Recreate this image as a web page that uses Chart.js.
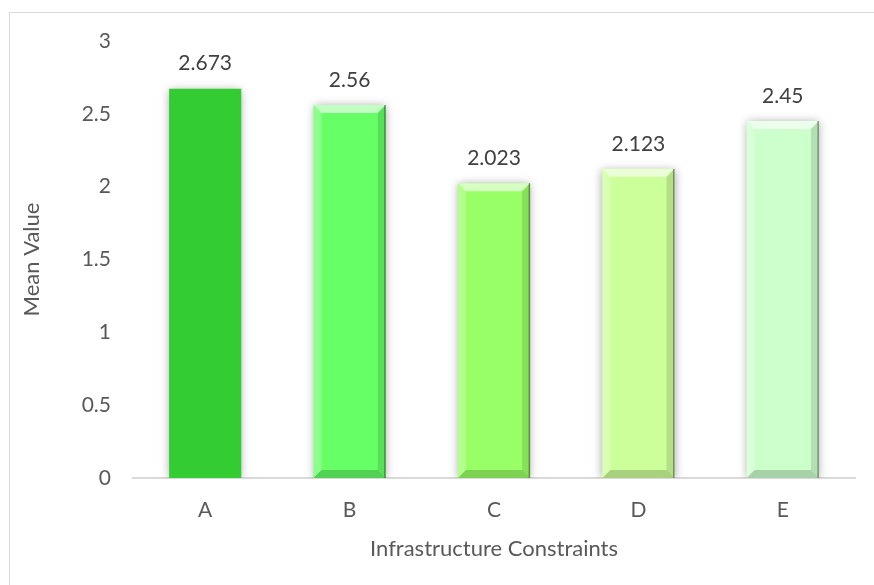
<!DOCTYPE html>
<html>
<head>
<meta charset="utf-8">
<script src="https://cdn.jsdelivr.net/npm/chart.js@4.4.1/dist/chart.umd.min.js"></script>
<style>
  html, body { margin: 0; padding: 0; background: #fff; }
  #wrap { width: 874px; height: 585px; position: relative; }
</style>
</head>
<body>
<div id="wrap"><canvas id="meanChart" width="874" height="585"></canvas></div>
<script>
// Valores medios por restricción de infraestructura
const categories = ['A', 'B', 'C', 'D', 'E'];
const meanValues = [2.673, 2.56, 2.023, 2.123, 2.45];
const yTicks = [0, 0.5, 1, 1.5, 2, 2.5, 3];

const barColors = ['#33cc33', '#66ff66', '#99ff66', '#ccff99', '#ccffcc'];
const flatBars = [0]; // la primera barra va sin relieve

const FONT = 'Lato';
const FONT_SIZE = 21;
const TITLE_SIZE = 22;
Chart.defaults.font.family = FONT;
Chart.defaults.font.size = FONT_SIZE;
Chart.defaults.color = '#595959';

// marco gris del gráfico
const framePlugin = {
  id: 'frame',
  beforeDraw(chart) {
    const ctx = chart.ctx;
    ctx.save();
    ctx.strokeStyle = '#d9d9d9';
    ctx.lineWidth = 1;
    ctx.strokeRect(9.5, 12.5, 900, 600);
    ctx.restore();
  }
};

// sombra suave alrededor de las barras
const shadowPlugin = {
  id: 'barShadow',
  beforeDatasetsDraw(chart) {
    const ctx = chart.ctx;
    ctx.save();
    ctx.shadowColor = 'rgba(0,0,0,0.35)';
    ctx.shadowBlur = 9;
    ctx.shadowOffsetX = 0;
    ctx.shadowOffsetY = 1;
  },
  afterDatasetsDraw(chart) {
    chart.ctx.restore();
  }
};

// relieve (bisel) y etiquetas de valor
const bevelPlugin = {
  id: 'bevel',
  afterDatasetsDraw(chart) {
    const ctx = chart.ctx;
    const meta = chart.getDatasetMeta(0);
    meta.data.forEach((bar, i) => {
      const l = bar.x - bar.width / 2;
      const r = bar.x + bar.width / 2;
      const t = bar.y;
      const b = bar.base;
      const s = 8;
      if (!flatBars.includes(i)) {
        const poly = (pts, fill) => {
          ctx.beginPath();
          ctx.moveTo(pts[0][0], pts[0][1]);
          pts.slice(1).forEach(p => ctx.lineTo(p[0], p[1]));
          ctx.closePath();
          ctx.fillStyle = fill;
          ctx.fill();
        };
        ctx.save();
        poly([[l, t], [r, t], [r - s, t + s], [l + s, t + s]], 'rgba(255,255,255,0.6)');
        poly([[l, t], [l + s, t + s], [l + s, b - s], [l, b]], 'rgba(255,255,255,0.25)');
        poly([[r, t], [r - s, t + s], [r - s, b - s], [r, b]], 'rgba(0,0,0,0.12)');
        poly([[l, b], [l + s, b - s], [r - s, b - s], [r, b]], 'rgba(0,0,0,0.18)');
        ctx.strokeStyle = 'rgba(0,0,0,0.35)';
        ctx.lineWidth = 1.5;
        ctx.beginPath();
        ctx.moveTo(r - 0.75, t);
        ctx.lineTo(r - 0.75, b);
        ctx.stroke();
        ctx.restore();
      }
      ctx.save();
      ctx.fillStyle = '#404040';
      ctx.font = FONT_SIZE + 'px ' + FONT;
      ctx.textAlign = 'center';
      ctx.textBaseline = 'middle';
      ctx.fillText(String(meanValues[i]), bar.x, t - 25);
      ctx.restore();
    });
  }
};

new Chart(document.getElementById('meanChart').getContext('2d'), {
  type: 'bar',
  data: {
    labels: categories,
    datasets: [{
      data: meanValues,
      backgroundColor: barColors,
      borderWidth: 0,
      barPercentage: 0.5,
      categoryPercentage: 1.0
    }]
  },
  options: {
    responsive: false,
    animation: false,
    layout: { padding: { left: 9, right: 19, top: 41, bottom: 0 } },
    plugins: {
      legend: { display: false },
      tooltip: { enabled: false }
    },
    scales: {
      x: {
        grid: { display: false, drawTicks: false },
        border: { display: true, color: '#d9d9d9', width: 2 },
        ticks: { color: '#595959', padding: 20, font: { family: FONT, size: FONT_SIZE } },
        title: {
          display: true,
          text: 'Infrastructure Constraints',
          color: '#595959',
          font: { family: FONT, size: TITLE_SIZE },
          padding: { top: 0, bottom: 23 }
        },
        afterFit(scale) { scale.height = 107; }
      },
      y: {
        min: 0,
        max: 3,
        afterBuildTicks(scale) { scale.ticks = yTicks.map(v => ({ value: v })); },
        grid: { display: false, drawTicks: false },
        border: { display: false },
        ticks: {
          color: '#595959',
          padding: 22,
          font: { family: FONT, size: FONT_SIZE },
          callback: v => String(v)
        },
        title: {
          display: true,
          text: 'Mean Value',
          color: '#595959',
          font: { family: FONT, size: TITLE_SIZE },
          padding: { top: 10, bottom: 0 }
        },
        afterFit(scale) { scale.width = 124; }
      }
    }
  },
  plugins: [framePlugin, shadowPlugin, bevelPlugin]
});
</script>
</body>
</html>
